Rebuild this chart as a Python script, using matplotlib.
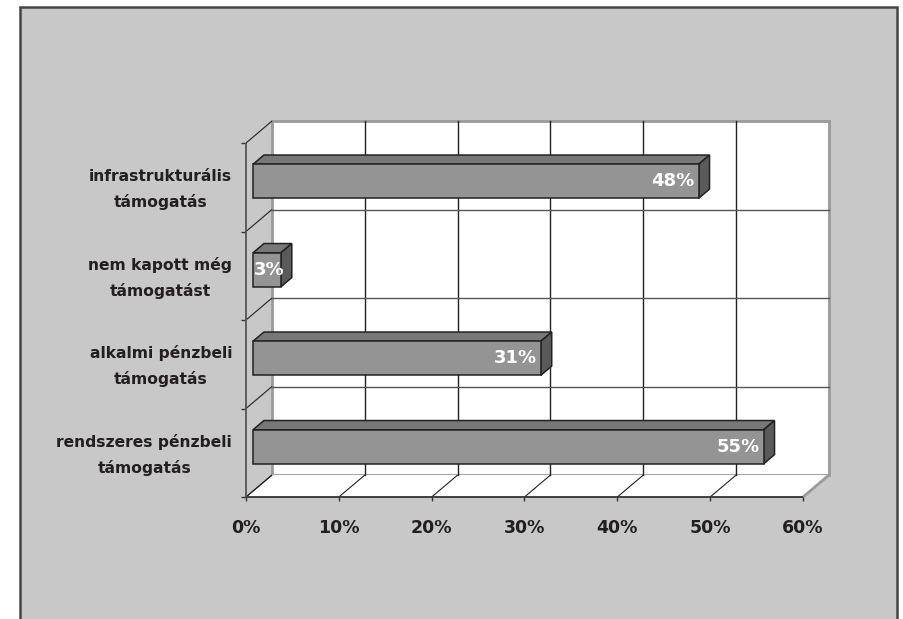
import matplotlib
matplotlib.use('Agg')
import matplotlib.pyplot as plt
from matplotlib.patches import Polygon, Rectangle
from matplotlib.transforms import IdentityTransform, offset_copy

# ---- data ----
categories = ["rendszeres pénzbeli\ntámogatás",
              "alkalmi pénzbeli\ntámogatás",
              "nem kapott még\ntámogatást",
              "infrastrukturális\ntámogatás"]
values = [55, 31, 3, 48]
value_labels = ["55%", "31%", "3%", "48%"]
xticks = [0, 10, 20, 30, 40, 50, 60]
xtick_labels = ["0%", "10%", "20%", "30%", "40%", "50%", "60%"]

W, H = 904, 619
fig = plt.figure(figsize=(W / 100, H / 100), dpi=100, facecolor='white')

# grey chart area
fig.patches.append(Rectangle((20 / W, -0.05), 877 / W, 1.05 - 6.5 / H,
                             transform=fig.transFigure, facecolor='#c8c8c9',
                             edgecolor='#454545', lw=1.8, zorder=-5))

ax = fig.add_axes([246 / W, 122 / H, 557 / W, 354 / H])
ax.set_zorder(1)
ax.set_xlim(0, 60)
ax.set_ylim(0, 4)
ax.axis('off')
ax.patch.set_alpha(0)

DX, DY = 26, 22
ident = IdentityTransform()
back = offset_copy(ax.transData, fig=fig, x=DX, y=DY, units='dots')


def P(x, y, d=0.0):
    px, py = ax.transData.transform((x, y))
    return (px + d * DX, py + d * DY)


def line(p, q, **kw):
    ax.plot([p[0], q[0]], [p[1], q[1]], transform=ident, clip_on=False,
            solid_capstyle='butt', **kw)


# back wall
ax.add_patch(Rectangle((0, 0), 60, 4, transform=back, facecolor='white',
                       edgecolor='#9a9a9a', lw=2, zorder=1, clip_on=False))
for x in xticks[1:-1]:
    ax.plot([x, x], [0, 4], transform=back, color='#222222', lw=1,
            zorder=2, clip_on=False)
for y in [1, 2, 3]:
    ax.plot([0, 60], [y, y], transform=back, color='#555555', lw=1,
            zorder=2, clip_on=False)

# floor
ax.add_patch(Polygon([P(0, 0), P(60, 0), P(60, 0, 1), P(0, 0, 1)],
                     closed=True, transform=ident, facecolor='white',
                     edgecolor='none', zorder=1, clip_on=False))
for x in xticks:
    if x == 60:
        line(P(x, 0), P(x, 0, 1), color='#9a9a9a', lw=2, zorder=3)
    else:
        line(P(x, 0), P(x, 0, 1), color='#222222', lw=0.8, zorder=3)
    p = P(x, 0)
    line(p, (p[0], p[1] - 4), color='#333333', lw=1, zorder=3)
    ax.text(p[0], p[1] - 31, xtick_labels[xticks.index(x)], transform=ident,
            ha='center', va='center', fontsize=12.5, fontweight='bold',
            color='#231f20')

# side wall lines and ticks
for y in range(5):
    line(P(0, y), P(0, y, 1), color='#222222', lw=0.8, zorder=3)
    p = P(0, y)
    line(p, (p[0] - 5, p[1]), color='#333333', lw=1, zorder=3)

# front axes
line(P(0, 0), P(60, 0), color='#333333', lw=1.3, zorder=4)
line(P(0, 0), P(0, 4), color='#555555', lw=1.3, zorder=4)

# bars
D0, D1 = 0.27, 0.69
HALF = 0.1925
for i, v in enumerate(values):
    y0, y1 = i + 0.5 - HALF, i + 0.5 + HALF
    front = [P(0, y0, D0), P(v, y0, D0), P(v, y1, D0), P(0, y1, D0)]
    top = [P(0, y1, D0), P(v, y1, D0), P(v, y1, D1), P(0, y1, D1)]
    side = [P(v, y0, D0), P(v, y0, D1), P(v, y1, D1), P(v, y1, D0)]
    for poly, col in [(top, '#787878'), (side, '#5a5a5a'), (front, '#949494')]:
        ax.add_patch(Polygon(poly, closed=True, transform=ident, facecolor=col,
                             edgecolor='#222222', lw=1.1, zorder=5,
                             clip_on=False, joinstyle='miter'))
    fr = P(v, i + 0.5, D0)
    if v < 6:
        fl = P(0, i + 0.5, D0)
        ax.text(fl[0] + 1, fr[1], value_labels[i], transform=ident, ha='left',
                va='center', fontsize=13, fontweight='bold', color='white',
                zorder=6)
    else:
        ax.text(fr[0] - 4, fr[1], value_labels[i], transform=ident,
                ha='right', va='center', fontsize=13, fontweight='bold',
                color='white', zorder=6)
    # category label
    c = P(0, i + 0.5)
    ax.text(232, c[1] - 2, categories[i], transform=ident, ha='right',
            va='center', multialignment='center', fontsize=11.2,
            fontweight='bold', color='#231f20', linespacing=1.75)

fig.savefig('out.png', dpi=100, facecolor='white')
